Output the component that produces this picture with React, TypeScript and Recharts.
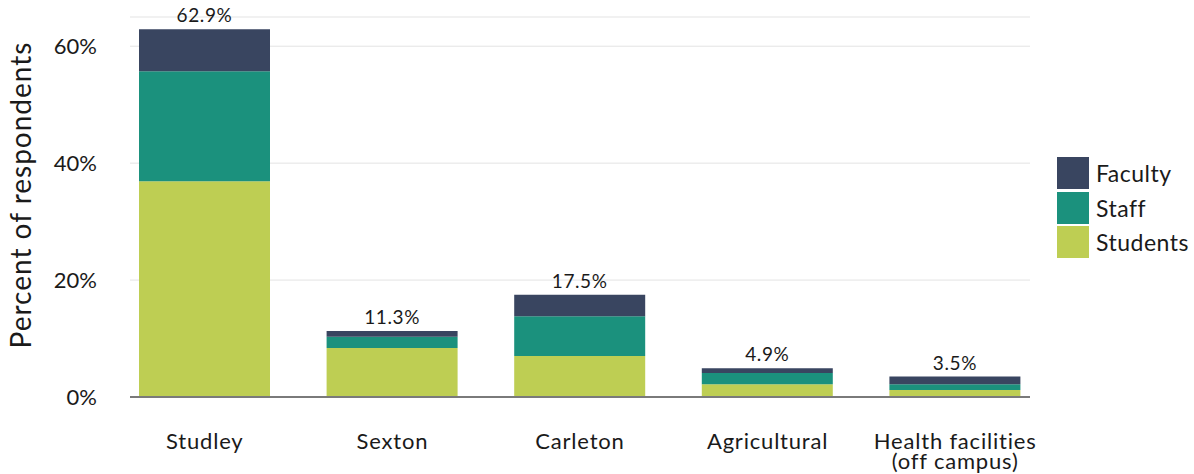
import { BarChart, Bar, XAxis, YAxis, CartesianGrid, Legend, LabelList, ReferenceLine } from 'recharts';

const categories = ['Studley', 'Sexton', 'Carleton', 'Agricultural', 'Health facilities (off campus)'];
const students = [36.9, 8.4, 7.0, 2.2, 1.2];
const staff = [18.8, 1.9, 6.8, 1.9, 1.0];
const faculty = [7.2, 1.0, 3.7, 0.8, 1.3];
const yTicks = [0, 20, 40, 60];

const series = [
    { key: 'students', name: 'Students', color: '#BECE53' },
    { key: 'staff', name: 'Staff', color: '#1B917D' },
    { key: 'faculty', name: 'Faculty', color: '#394560' },
];

const data = categories.map((name, i) => ({
    name,
    students: students[i],
    staff: staff[i],
    faculty: faculty[i],
    total: Math.round((students[i] + staff[i] + faculty[i]) * 10) / 10,
}));

const FONT = 'Lato, "Open Sans", sans-serif';
const TEXT = '#1a1a1a';

// wraps the long category onto two lines like the original
const CategoryTick = ({ x, y, payload }: any) => {
    const lines = String(payload.value).replace(' (', '\n(').split('\n');
    return (
        <text x={x} y={y + 50} textAnchor="middle" fill={TEXT} fontSize={22} letterSpacing={0.8} fontFamily={FONT}>
            {lines.map((line, i) => (
                <tspan key={i} x={x} dy={i === 0 ? 0 : 20}>{line}</tspan>
            ))}
        </text>
    );
};

const LegendBox = () => (
    <div style={{ fontFamily: FONT, fontSize: 23, color: TEXT, letterSpacing: 0.5 }}>
        {[...series].reverse().map((s) => (
            <div key={s.key} style={{ display: 'flex', alignItems: 'center', height: 32, marginBottom: 2.5 }}>
                <span style={{ width: 32, height: 32, background: s.color, display: 'inline-block', marginRight: 7 }} />
                {s.name}
            </div>
        ))}
    </div>
);

export default function App() {
    return (
        <div style={{ position: 'absolute', left: 0, top: 0, width: 1194, height: 474, background: '#fff' }}>
            <BarChart
                width={1194}
                height={474}
                data={data}
                margin={{ top: 17, right: 145, bottom: 17, left: 0 }}
                barSize={131}
            >
                <CartesianGrid
                    vertical={false}
                    horizontal={(p: any) => (
                        <line key={p.key ?? p.index} x1={p.x1 + 19} x2={p.x2 - 19} y1={p.y1} y2={p.y2} stroke="#e3e3e3" strokeWidth={1} />
                    )}
                />
                <XAxis
                    dataKey="name"
                    axisLine={false}
                    tickLine={false}
                    tickSize={0}
                    height={60}
                    interval={0}
                    tick={<CategoryTick />}
                />
                <YAxis
                    width={111}
                    domain={[0, 65]}
                    ticks={yTicks}
                    axisLine={false}
                    tickLine={false}
                    tickSize={0}
                    tickMargin={14}
                    tickFormatter={(v) => `${v}%`}
                    tick={{ fill: TEXT, fontSize: 22, fontFamily: FONT }}
                    label={{
                        content: () => (
                            <text x={31} y={195} transform="rotate(-90, 31, 195)" textAnchor="middle" fill={TEXT} fontSize={28} letterSpacing={1} fontFamily={FONT}>
                                Percent of respondents
                            </text>
                        ),
                    }}
                />
                <Legend
                    layout="vertical"
                    align="center"
                    verticalAlign="middle"
                    content={<LegendBox />}
                    wrapperStyle={{ left: 1057, top: 157, width: 'auto' }}
                />
                {series.map((s, idx) => (
                    <Bar key={s.key} dataKey={s.key} name={s.name} stackId="a" fill={s.color} isAnimationActive={false}>
                        {idx === series.length - 1 && (
                            <LabelList
                                dataKey="total"
                                position="top"
                                offset={7}
                                formatter={(v: any) => `${Number(v).toFixed(1)}%`}
                                style={{ fill: TEXT, fontSize: 19, fontFamily: FONT, letterSpacing: 0.6 }}
                            />
                        )}
                    </Bar>
                ))}
                <ReferenceLine
                    y={0}
                    shape={(p: any) => (
                        <line x1={p.x1 + 19} x2={p.x2 - 19} y1={p.y1} y2={p.y2} stroke="#7a7a7a" strokeWidth={2} />
                    )}
                />
            </BarChart>
        </div>
    );
}
